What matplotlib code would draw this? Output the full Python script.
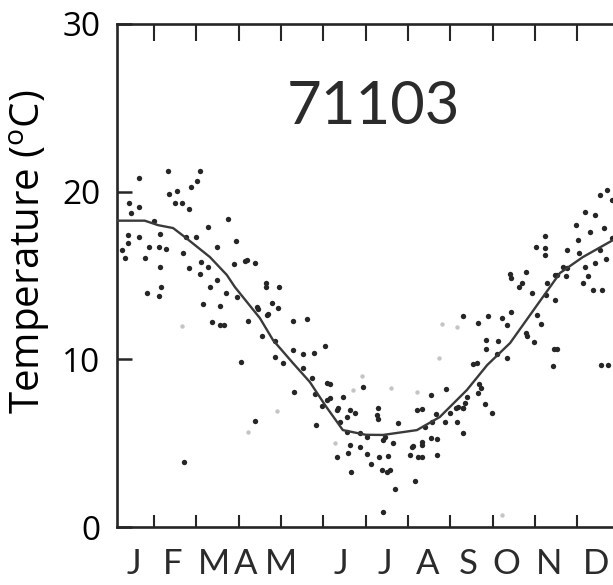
import matplotlib
matplotlib.use('Agg')
import matplotlib.pyplot as plt
import matplotlib.transforms as mtransforms

plt.rcParams['mathtext.fontset'] = 'custom'
plt.rcParams['mathtext.rm'] = 'Open Sans'

# x in months from 1 Jan, y in deg C
month_x = [0.24, 0.31, 0.39, 0.39, 0.42, 0.45, 0.65, 0.65, 0.65, 0.79, 0.84, 0.89,
           1.00, 1.12, 1.12, 1.14, 1.14, 1.16, 1.28, 1.34, 1.36, 1.50, 1.54, 1.65,
           1.68, 1.71, 1.76, 1.83, 1.83, 1.87, 1.99, 2.02, 2.09, 2.09, 2.10, 2.15,
           2.28, 2.28, 2.32, 2.36, 2.48, 2.48, 2.56, 2.56, 2.65, 2.70, 2.75, 2.89,
           2.94, 2.95, 3.05, 3.15, 3.20, 3.23, 3.39, 3.39, 3.43, 3.46, 3.54, 3.65,
           3.65, 3.66, 3.70, 3.78, 3.86, 3.86, 3.94, 3.95, 4.05, 4.28, 4.29, 4.31,
           4.53, 4.53, 4.62, 4.72, 4.78, 4.80, 4.83, 4.96, 5.04, 5.08, 5.08, 5.16,
           5.16, 5.32, 5.32, 5.35, 5.39, 5.46, 5.55, 5.55, 5.57, 5.63, 5.63, 5.65,
           5.75, 5.87, 5.87, 5.94, 6.02, 6.04, 6.13, 6.26, 6.30, 6.30, 6.32, 6.38,
           6.42, 6.42, 6.46, 6.50, 6.53, 6.57, 6.65, 6.69, 6.77, 7.05, 7.09, 7.11,
           7.17, 7.21, 7.24, 7.32, 7.32, 7.32, 7.32, 7.40, 7.54, 7.54, 7.56, 7.66,
           7.68, 7.69, 7.87, 7.90, 7.99, 8.13, 8.15, 8.19, 8.29, 8.31, 8.31, 8.31,
           8.35, 8.39, 8.53, 8.62, 8.66, 8.66, 8.68, 8.72, 8.82, 8.84, 8.84, 8.90,
           8.98, 9.10, 9.13, 9.21, 9.33, 9.33, 9.41, 9.43, 9.43, 9.63, 9.69, 9.79,
           9.79, 9.80, 9.92, 9.98, 10.02, 10.04, 10.13, 10.24, 10.24, 10.24, 10.26,
           10.28, 10.43, 10.45, 10.47, 10.47, 10.51, 10.51, 10.67, 10.73, 10.75,
           10.75, 10.97, 11.02, 11.05, 11.14, 11.18, 11.18, 11.26, 11.30, 11.38,
           11.42, 11.42, 11.54, 11.54, 11.56, 11.58, 11.63, 11.68, 11.71, 11.73,
           11.82, 11.82]
temp = [16.52, 16.02, 17.41, 16.92, 19.34, 18.74, 20.79, 19.06, 17.27, 16.06, 13.94, 16.68,
        18.25, 16.68, 13.79, 17.47, 15.52, 14.29, 16.56, 21.25, 19.86, 19.30, 20.05, 19.30,
        16.36, 3.86, 17.27, 18.94, 15.43, 20.29, 17.27, 20.65, 21.25, 15.09, 15.82, 13.30,
        17.91, 15.49, 14.33, 12.24, 16.68, 14.73, 13.18, 12.05, 12.05, 13.97, 18.37, 15.68,
        17.07, 13.70, 9.82, 15.88, 15.92, 12.30, 15.72, 6.34, 13.10, 12.98, 11.39, 14.53,
        14.33, 12.64, 12.68, 13.34, 10.15, 11.11, 13.04, 14.33, 9.76, 12.30, 10.55, 8.07,
        10.32, 9.46, 12.39, 8.87, 10.39, 7.93, 6.08, 7.22, 10.81, 8.57, 7.57, 7.67,
        8.53, 4.19, 6.98, 7.08, 6.28, 7.77, 6.58, 5.68, 4.39, 6.98, 4.89, 3.30,
        6.78, 5.59, 4.79, 8.37, 5.38, 4.35, 3.76, 6.68, 7.08, 6.42, 4.16, 3.40,
        5.19, 0.91, 5.38, 3.30, 4.23, 3.40, 4.99, 2.25, 6.22, 4.29, 4.79, 4.83,
        2.76, 6.98, 4.19, 7.02, 5.09, 4.89, 4.16, 5.98, 7.87, 5.29, 6.28, 6.74,
        4.29, 5.23, 6.28, 8.21, 6.82, 7.08, 6.28, 7.17, 5.59, 12.60, 7.08, 7.08,
        7.38, 7.77, 9.72, 9.76, 12.15, 7.97, 8.53, 8.27, 7.33, 11.15, 10.60, 12.60,
        6.82, 10.32, 11.11, 12.44, 12.05, 10.06, 15.09, 12.84, 14.83, 14.29, 14.53, 15.22,
        11.59, 11.39, 13.94, 11.05, 16.68, 12.64, 12.10, 17.35, 16.62, 16.22, 13.83,
        14.53, 9.60, 10.60, 15.03, 13.54, 10.60, 15.03, 15.52, 14.97, 16.52,
        15.43, 18.00, 17.10, 16.32, 14.57, 15.49, 18.80, 15.00, 17.60, 14.13,
        15.76, 18.60, 19.80, 16.50, 9.66, 14.13, 17.83, 15.96, 20.10, 9.66,
        19.50, 17.23]

# faint specks in the scan
faint_x = [1.65, 3.23, 3.90, 5.27, 5.71, 5.91, 6.59, 7.21, 7.74, 7.80, 8.15, 9.21]
faint_y = [11.99, 5.68, 6.93, 4.99, 8.17, 9.00, 8.27, 8.07, 10.06, 12.10, 11.91, 0.72]

# smoothed annual curve
curve_x = [0.15, 0.78, 1.10, 1.45, 1.73, 2.32, 2.72, 2.91, 3.50, 3.81, 4.28, 4.68,
           5.04, 5.46, 6.00, 6.41, 7.21, 7.75, 8.39, 8.87, 9.41, 10.05, 10.59, 11.13, 11.84]
curve_y = [18.27, 18.27, 18.0, 17.83, 17.29, 16.1, 15.03, 14.31, 12.46, 11.15, 9.78, 8.65,
           7.27, 5.78, 5.5, 5.49, 5.78, 6.56, 8.17, 9.66, 10.97, 13.24, 15.15, 16.10, 17.11]

month_names = ['J', 'F', 'M', 'A', 'M', 'J', 'J', 'A', 'S', 'O', 'N', 'D']
month_label_x = [0.53, 1.45, 2.42, 3.17, 4.00, 5.42, 6.46, 7.47, 8.42, 9.31, 10.33, 11.44]
y_ticks = [0, 10, 20, 30]

ink = '#262626'

fig = plt.figure(figsize=(6.13, 5.85), dpi=100)
ax = fig.add_axes([117 / 613, 1 - 527 / 585, 502.7 / 613, 503 / 585])

ax.scatter(faint_x, faint_y, s=10, color='#c4c4c4', linewidths=0, zorder=2)
ax.scatter(month_x, temp, s=15, color=ink, linewidths=0, zorder=3)
ax.plot(curve_x, curve_y, color='#3a3a3a', lw=1.7, zorder=4)

ax.set_xlim(0.125, 12)
ax.set_ylim(0, 30)

for s in ax.spines.values():
    s.set_linewidth(1.9)
    s.set_color(ink)

ax.set_xticks(range(1, 12))
ax.set_xticklabels([])
ax.tick_params(axis='x', direction='in', length=9, width=1.5, color=ink)

top = ax.secondary_xaxis('top')
top.set_xticks(range(1, 12))
top.set_xticklabels([])
top.tick_params(direction='in', length=12, width=1.5, color=ink)
top.spines['top'].set_visible(False)

trans = mtransforms.blended_transform_factory(ax.transData, ax.transAxes)
for xm, name in zip(month_label_x, month_names):
    ax.text(xm, -0.074, name, transform=trans, ha='center', va='center',
            fontfamily='Lato', fontsize=25, color='#2b2b2b')

ax.set_yticks(y_ticks)
ax.set_yticklabels([str(v) for v in y_ticks], fontfamily='Open Sans', fontsize=24)
ax.tick_params(axis='y', direction='in', length=11, width=1.8, color=ink, pad=12)

ax.text(373 / 613, 1 - 107 / 585, '71103', transform=fig.transFigure,
        ha='center', va='center', fontfamily='Lato', fontsize=43, color='#2b2b2b')

fig.text(30 / 613, 1 - 252 / 585, r'Temperature ($\mathregular{^o}$C)', rotation=90,
         ha='center', va='center', fontfamily='Open Sans', fontsize=29)

fig.savefig('out.png', dpi=100)
